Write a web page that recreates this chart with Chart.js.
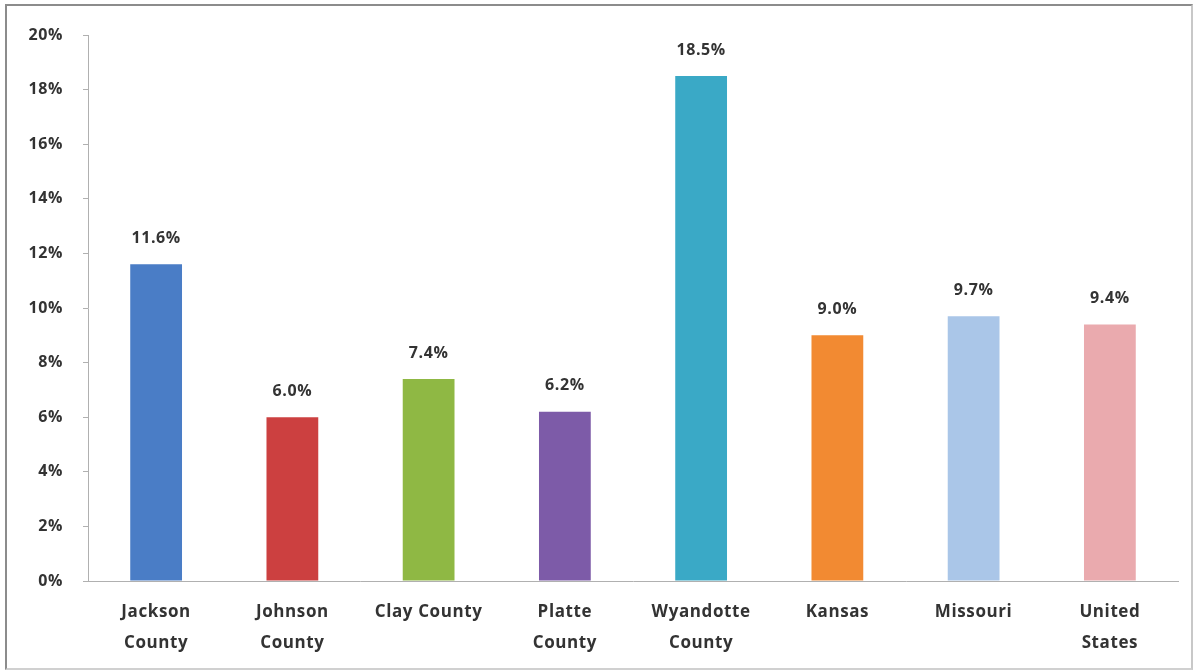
<!DOCTYPE html>
<html lang="en">
<head>
    <meta charset="UTF-8">
    <title>Poverty Rate by Area</title>
    <style>
        body {
            margin: 0;
            background: #ffffff;
            font-family: 'Open Sans', sans-serif;
        }
        #chartContainer {
            position: absolute;
            left: 0;
            top: 0;
            width: 1196px;
            height: 672px;
        }
        .frame {
            position: absolute;
            left: 5px;
            top: 4px;
            width: 1184px;
            height: 662px;
            border: 2px solid #8c8c8c;
            border-right-color: #c8c8c8;
            border-bottom-color: #d0d0d0;
            pointer-events: none;
        }
    </style>
</head>
<body>
<div id="chartContainer">
    <canvas id="rateChart" width="1196" height="672"></canvas>
</div>
<div class="frame"></div>

<script src="https://cdn.jsdelivr.net/npm/chart.js"></script>
<script>
  const categories = [
    ['Jackson', 'County'], ['Johnson', 'County'], 'Clay County', ['Platte', 'County'],
    ['Wyandotte', 'County'], 'Kansas', 'Missouri', ['United', 'States']
  ];
  const rates = [11.6, 6.0, 7.4, 6.2, 18.5, 9.0, 9.7, 9.4];
  const barColors = ['#4a7dc6', '#cc4040', '#8fb844', '#7d5ba8', '#3aa9c6', '#f28a32', '#aac6e8', '#eaaaae'];
  const yTicks = [0, 2, 4, 6, 8, 10, 12, 14, 16, 18, 20];

  const FONT = 'Open Sans';

  // wider text like the original
  const spacing = {
    id: 'spacing',
    beforeLayout(chart) { chart.ctx.letterSpacing = '0.6px'; },
    beforeDraw(chart) { chart.ctx.letterSpacing = '0.6px'; }
  };

  // labels above each bar
  const valueLabels = {
    id: 'valueLabels',
    afterDatasetsDraw(chart) {
      const ctx = chart.ctx;
      const meta = chart.getDatasetMeta(0);
      ctx.save();
      ctx.font = 'bold 16px ' + FONT + ', sans-serif';
      ctx.fillStyle = '#333333';
      ctx.textAlign = 'center';
      ctx.textBaseline = 'middle';
      meta.data.forEach((bar, i) => {
        ctx.fillText(rates[i].toFixed(1) + '%', bar.x, bar.y - 26);
      });
      ctx.restore();
    }
  };

  const ctx = document.getElementById('rateChart').getContext('2d');
  new Chart(ctx, {
    type: 'bar',
    data: {
      labels: categories,
      datasets: [{
        data: rates,
        backgroundColor: barColors,
        barPercentage: 0.38,
        categoryPercentage: 1.0
      }]
    },
    options: {
      responsive: false,
      animation: false,
      layout: { padding: { left: 10, right: 18, top: 35, bottom: 10 } },
      plugins: {
        legend: { display: false },
        tooltip: { enabled: false }
      },
      scales: {
        y: {
          min: 0,
          max: 20,
          afterBuildTicks: axis => { axis.ticks = yTicks.map(v => ({ value: v })); },
          afterFit: axis => { axis.width = 78; },
          grid: {
            display: true,
            drawOnChartArea: false,
            drawTicks: true,
            tickLength: 5,
            color: '#b0b0b0'
          },
          border: { display: true, color: '#b0b0b0' },
          ticks: {
            color: '#333333',
            padding: 20,
            font: { family: FONT, size: 16, weight: 'bold' },
            callback: v => v + '%'
          }
        },
        x: {
          afterFit: axis => { axis.height = 81; },
          grid: { display: false },
          border: { display: true, color: '#b0b0b0' },
          ticks: {
            color: '#333333',
            padding: 8,
            maxRotation: 0,
            autoSkip: false,
            font: { family: FONT, size: 17, weight: 'bold', lineHeight: 1.8 }
          }
        }
      }
    },
    plugins: [spacing, valueLabels]
  });
</script>
</body>
</html>
